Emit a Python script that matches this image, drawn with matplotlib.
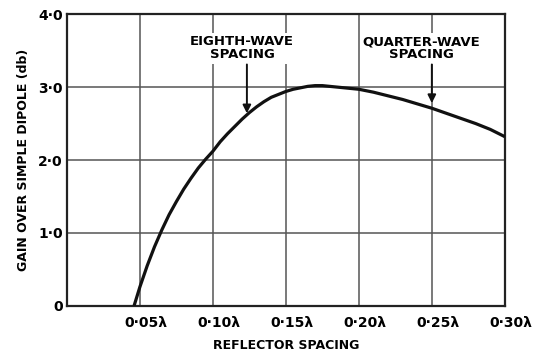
import numpy as np
import matplotlib
matplotlib.use("Agg")
import matplotlib.pyplot as plt
import matplotlib.transforms as mtransforms

# reflector spacing (wavelengths) and gain over simple dipole (db)
spacing = [0.046, 0.05, 0.055, 0.06, 0.065, 0.07, 0.075, 0.08, 0.085, 0.09, 0.095,
           0.10, 0.105, 0.11, 0.115, 0.12, 0.125, 0.13, 0.135, 0.14, 0.145, 0.15,
           0.155, 0.16, 0.165, 0.17, 0.175, 0.18, 0.19, 0.20, 0.21, 0.22, 0.23,
           0.24, 0.25, 0.26, 0.27, 0.28, 0.29, 0.30]
gain = [0.0, 0.26, 0.55, 0.81, 1.04, 1.25, 1.43, 1.60, 1.75, 1.89, 2.01,
        2.12, 2.25, 2.36, 2.46, 2.56, 2.65, 2.73, 2.80, 2.86, 2.90, 2.94,
        2.97, 2.99, 3.01, 3.02, 3.02, 3.01, 2.99, 2.97, 2.93, 2.88, 2.83,
        2.77, 2.71, 2.64, 2.57, 2.50, 2.42, 2.32]

xticks = [0.05, 0.10, 0.15, 0.20, 0.25, 0.30]
xticklabels = ["0·05λ", "0·10λ", "0·15λ", "0·20λ", "0·25λ", "0·30λ"]
yticks = [0, 1, 2, 3, 4]
yticklabels = ["0", "1·0", "2·0", "3·0", "4·0"]

# arrows: (label, text x, arrow x, arrow tip y)
notes = [("EIGHTH-WAVE\nSPACING", 0.120, 0.1233, 2.64),
         ("QUARTER-WAVE\nSPACING", 0.243, 0.250, 2.78)]

plt.rcParams['font.family'] = ['DejaVu Sans']
plt.rcParams['font.weight'] = 'bold'

fig = plt.figure(figsize=(5.44, 3.54), dpi=100)
ax = fig.add_axes([0.123, 0.136, 0.805, 0.824])

ax.plot(spacing, gain, color='#111111', lw=2.3, solid_capstyle='butt', zorder=3)

ax.set_xlim(0, 0.30)
ax.set_ylim(0, 4.0)
ax.set_xticks(xticks)
ax.set_xticklabels(xticklabels, fontsize=10)
ax.set_yticks(yticks)
ax.set_yticklabels(yticklabels, fontsize=10)
ax.tick_params(length=0)
ax.tick_params(axis='x', pad=7)
ax.tick_params(axis='y', pad=3)
shift = mtransforms.ScaledTranslation(6 / 100, 0, fig.dpi_scale_trans)
for lab in ax.get_xticklabels():
    lab.set_transform(lab.get_transform() + shift)

ax.grid(True, color='#555555', lw=1.1)
for s in ax.spines.values():
    s.set_linewidth(1.6)
    s.set_color('#222222')

ax.set_ylabel("GAIN OVER SIMPLE DIPOLE (db)", fontsize=9, fontweight='bold', labelpad=6)
ax.set_xlabel("REFLECTOR SPACING", fontsize=9, fontweight='bold', labelpad=7)

for text, tx, x, tip in notes:
    ax.text(tx, 3.53, text, ha='center', va='center', fontsize=9.5,
            linespacing=1.0,
            bbox=dict(facecolor='white', edgecolor='none', pad=1.5), zorder=4)
    ax.annotate("", xy=(x, tip), xytext=(x, 3.31),
                arrowprops=dict(arrowstyle='-|>', color='#111111', lw=1.4,
                                mutation_scale=12, shrinkA=0, shrinkB=0),
                zorder=4)

fig.savefig("out.png", dpi=100)
